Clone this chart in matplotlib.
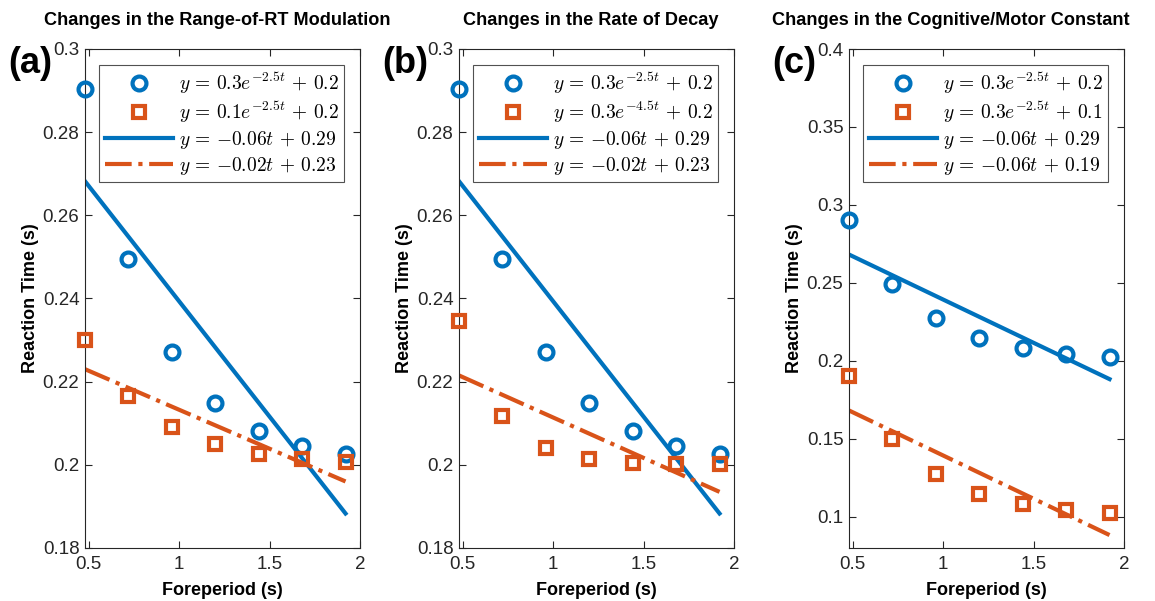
import matplotlib
matplotlib.use('Agg')
import matplotlib.pyplot as plt

plt.rcParams['font.family'] = ['Liberation Sans', 'DejaVu Sans']
plt.rcParams['mathtext.fontset'] = 'cm'

# foreperiod values (s)
t = [0.48, 0.72, 0.96, 1.20, 1.44, 1.68, 1.92]

# reference curve (same in all panels)
rt_ref = [0.2904, 0.2496, 0.2272, 0.2149, 0.2082, 0.2045, 0.2025]

# modified curves, one per panel
rt_a = [0.2301, 0.2165, 0.2091, 0.2050, 0.2027, 0.2015, 0.2008]
rt_b = [0.2346, 0.2118, 0.2040, 0.2013, 0.2005, 0.2002, 0.2001]
rt_c = [0.1904, 0.1496, 0.1272, 0.1149, 0.1082, 0.1045, 0.1025]

# linear fit end points (at t = 0.48 and 1.92)
fit_t = [0.48, 1.92]
fit_ref = [0.2682, 0.1883]
fit_a = [0.2230, 0.1960]
fit_b = [0.2215, 0.1935]
fit_c = [0.1682, 0.0883]

titles = ['Changes in the Range-of-RT Modulation',
          'Changes in the Rate of Decay',
          'Changes in the Cognitive/Motor Constant']
letters = ['(a)', '(b)', '(c)']
labels = [
    [r'$y\,=\,0.3e^{-2.5t}\,+\,0.2$', r'$y\,=\,0.1e^{-2.5t}\,+\,0.2$',
     r'$y\,=\,{-0.06}t\,+\,0.29$', r'$y\,=\,{-0.02}t\,+\,0.23$'],
    [r'$y\,=\,0.3e^{-2.5t}\,+\,0.2$', r'$y\,=\,0.3e^{-4.5t}\,+\,0.2$',
     r'$y\,=\,{-0.06}t\,+\,0.29$', r'$y\,=\,{-0.02}t\,+\,0.23$'],
    [r'$y\,=\,0.3e^{-2.5t}\,+\,0.2$', r'$y\,=\,0.3e^{-2.5t}\,+\,0.1$',
     r'$y\,=\,{-0.06}t\,+\,0.29$', r'$y\,=\,{-0.06}t\,+\,0.19$'],
]
ylims = [(0.18, 0.3), (0.18, 0.3), (0.08, 0.4)]
yticks = [[0.18, 0.2, 0.22, 0.24, 0.26, 0.28, 0.3],
          [0.18, 0.2, 0.22, 0.24, 0.26, 0.28, 0.3],
          [0.1, 0.15, 0.2, 0.25, 0.3, 0.35, 0.4]]
yticklabels = [['0.18', '0.2', '0.22', '0.24', '0.26', '0.28', '0.3'],
               ['0.18', '0.2', '0.22', '0.24', '0.26', '0.28', '0.3'],
               ['0.1', '0.15', '0.2', '0.25', '0.3', '0.35', '0.4']]

blue = '#0072BD'
orange = '#D95319'
dark = '#262626'

fig = plt.figure(figsize=(11.55, 6.01), dpi=100)

mod = [rt_a, rt_b, rt_c]
mod_fit = [fit_a, fit_b, fit_c]
lefts = [85, 459, 849]
title_x = [0.482, 0.48, 0.37]  # the last title is pushed left to stay inside the figure

for i in range(3):
    ax = fig.add_axes([lefts[i] / 1155, 53 / 601, 275 / 1155, 499 / 601])

    ax.plot(t, rt_ref, 'o', ls='none', ms=10, mew=3, mfc='none', mec=blue,
            label=labels[i][0], clip_on=False, zorder=3)
    ax.plot(t, mod[i], 's', ls='none', ms=8.5, mew=3, mfc='none', mec=orange,
            label=labels[i][1], clip_on=False, zorder=3)
    ax.plot(fit_t, fit_ref, '-', color=blue, lw=3, label=labels[i][2])
    ax.plot(fit_t, mod_fit[i], '-.', color=orange, lw=3, label=labels[i][3])

    ax.set_xlim(0.48, 2)
    ax.set_ylim(*ylims[i])
    ax.set_xticks([0.5, 1, 1.5, 2])
    ax.set_xticklabels(['0.5', '1', '1.5', '2'])
    ax.set_yticks(yticks[i])
    ax.set_yticklabels(yticklabels[i])
    ax.tick_params(direction='in', top=True, right=True, length=5, width=0.8,
                   labelsize=13.5, colors=dark)
    ax.tick_params(axis='x', pad=6)
    ax.tick_params(axis='y', pad=4)
    for s in ax.spines.values():
        s.set_color(dark)
        s.set_linewidth(0.8)

    ax.set_xlabel('Foreperiod (s)', fontsize=13, fontweight='bold', labelpad=6)
    ax.set_ylabel('Reaction Time (s)', fontsize=13, fontweight='bold', labelpad=3)
    ax.set_title(titles[i], fontsize=13.1, fontweight='bold', pad=17, x=title_x[i])

    leg = ax.legend(loc='upper right', fontsize=14, frameon=True, fancybox=False,
                    edgecolor=dark, handlelength=3.5, borderpad=0.3,
                    labelspacing=0.2, handletextpad=0.3, borderaxespad=0.8)
    leg.get_frame().set_linewidth(0.8)
    leg.set_zorder(10)

    ax.text(-0.28, 0.97, letters[i], transform=ax.transAxes, fontsize=26,
            fontweight='bold', ha='left', va='center')

fig.savefig('out.png', dpi=100)
